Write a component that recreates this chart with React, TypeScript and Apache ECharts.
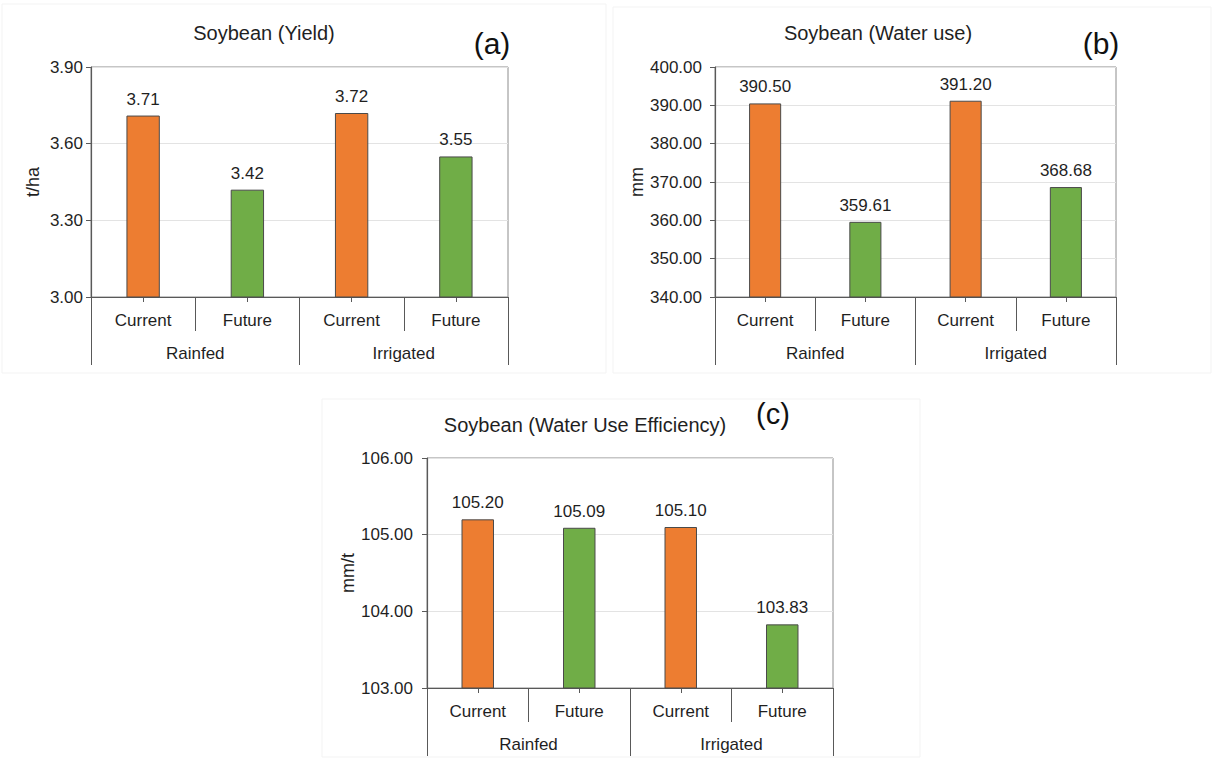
import React, { useEffect, useRef } from "react";
import * as echarts from "echarts";

const categories = ["Current", "Future", "Current", "Future"];
const groups = ["Rainfed", "Irrigated"];
const yieldValues = [3.71, 3.42, 3.72, 3.55];
const waterUseValues = [390.5, 359.61, 391.2, 368.68];
const wueValues = [105.2, 105.09, 105.1, 103.83];
const barColors = ["#ED7D31", "#70AD47", "#ED7D31", "#70AD47"];

const FONT = "Liberation Sans, Arial, sans-serif";
const TXT = "#1f1f1f";

type Panel = {
  title: string;
  tag: string;
  unit: string;
  values: number[];
  min: number;
  max: number;
  interval: number;
  grid: { left: number; top: number; width: number; height: number };
  labelMargin: number;
  nameGap: number;
  titlePos: [number, number];
  tagPos: [number, number];
  tagSize: number;
};

const panels: Panel[] = [
  {
    title: "Soybean (Yield)", tag: "(a)", unit: "t/ha", values: yieldValues,
    min: 3.0, max: 3.9, interval: 0.3,
    grid: { left: 91, top: 67, width: 417, height: 230 },
    labelMargin: 8, nameGap: 49, titlePos: [264, 33], tagPos: [492, 43], tagSize: 30,
  },
  {
    title: "Soybean (Water use)", tag: "(b)", unit: "mm", values: waterUseValues,
    min: 340, max: 400, interval: 10,
    grid: { left: 715, top: 67, width: 401, height: 230 },
    labelMargin: 13, nameGap: 68, titlePos: [878, 33], tagPos: [1101, 43], tagSize: 30,
  },
  {
    title: "Soybean (Water Use Efficiency)", tag: "(c)", unit: "mm/t", values: wueValues,
    min: 103, max: 106, interval: 1,
    grid: { left: 427, top: 458, width: 406, height: 230 },
    labelMargin: 14, nameGap: 68, titlePos: [585, 425], tagPos: [773, 414], tagSize: 29,
  },
];

export default function App() {
  const ref = useRef<HTMLDivElement>(null);
  useEffect(() => {
    if (!ref.current) return;
    const chart = echarts.init(ref.current, null, { renderer: "svg" });
    const grids: any[] = [];
    const xAxes: any[] = [];
    const yAxes: any[] = [];
    const series: any[] = [];
    const graphics: any[] = [
      { type: "rect", shape: { x: 2, y: 4, width: 604, height: 369 }, style: { fill: "none", stroke: "#f3f3f3", lineWidth: 1 }, silent: true },
      { type: "rect", shape: { x: 613, y: 7, width: 598, height: 366 }, style: { fill: "none", stroke: "#f3f3f3", lineWidth: 1 }, silent: true },
      { type: "rect", shape: { x: 322, y: 399, width: 598, height: 358 }, style: { fill: "none", stroke: "#f3f3f3", lineWidth: 1 }, silent: true },
    ];
    panels.forEach((p, i) => {
      grids.push({
        left: p.grid.left, top: p.grid.top, width: p.grid.width, height: p.grid.height,
        show: true, borderColor: "#8c8c8c", borderWidth: 1, containLabel: false,
      });
      xAxes.push({
        type: "category", gridIndex: i, data: categories, position: "bottom",
        axisLine: { show: true, lineStyle: { color: "#595959", width: 1.2 } },
        axisTick: { show: true, length: 34, lineStyle: { color: "#595959" } },
        axisLabel: { color: TXT, fontFamily: FONT, fontSize: 17, margin: 15 },
      });
      xAxes.push({
        type: "category", gridIndex: i, data: categories, position: "bottom",
        axisLine: { show: false },
        axisTick: { show: true, alignWithLabel: true, length: 5, lineStyle: { color: "#595959" } },
        axisLabel: { show: false },
      });
      xAxes.push({
        type: "category", gridIndex: i, data: groups, position: "bottom",
        axisLine: { show: false },
        axisTick: { show: true, length: 68, lineStyle: { color: "#595959" } },
        axisLabel: { color: TXT, fontFamily: FONT, fontSize: 17, margin: 48 },
      });
      yAxes.push({
        type: "value", gridIndex: i, min: p.min, max: p.max, interval: p.interval,
        name: p.unit, nameLocation: "middle", nameRotate: 90, nameGap: p.nameGap,
        nameTextStyle: { color: TXT, fontFamily: FONT, fontSize: 18 },
        axisLine: { show: true, lineStyle: { color: "#595959", width: 1.2 } },
        axisTick: { show: true, length: 5, lineStyle: { color: "#595959" } },
        axisLabel: {
          color: TXT, fontFamily: FONT, fontSize: 17, margin: p.labelMargin,
          formatter: (v: number) => v.toFixed(2),
        },
        splitLine: { show: true, lineStyle: { color: "#e3e3e3", width: 1 } },
      });
      series.push({
        type: "bar", xAxisIndex: i * 3, yAxisIndex: i, barWidth: "32%",
        data: p.values.map((v, k) => ({
          value: v,
          itemStyle: { color: barColors[k], borderColor: "#4a4a4a", borderWidth: 1 },
        })),
        label: {
          show: true, position: "top", distance: 8, color: TXT, fontFamily: FONT, fontSize: 17,
          formatter: (d: any) => Number(d.value).toFixed(2),
        },
      });
      graphics.push({
        type: "text", x: p.titlePos[0], y: p.titlePos[1],
        style: { text: p.title, fill: TXT, font: `20px ${FONT}`, textAlign: "center", textVerticalAlign: "middle" },
      });
      graphics.push({
        type: "text", x: p.tagPos[0], y: p.tagPos[1],
        style: { text: p.tag, fill: "#111", font: `${p.tagSize}px ${FONT}`, textAlign: "center", textVerticalAlign: "middle" },
      });
    });
    chart.setOption({
      animation: false,
      backgroundColor: "#ffffff",
      grid: grids,
      xAxis: xAxes,
      yAxis: yAxes,
      series,
      graphic: graphics,
    });
    return () => chart.dispose();
  }, []);
  return (
    <div
      ref={ref}
      style={{ position: "fixed", left: 0, top: 0, width: 1213, height: 760 }}
    />
  );
}
